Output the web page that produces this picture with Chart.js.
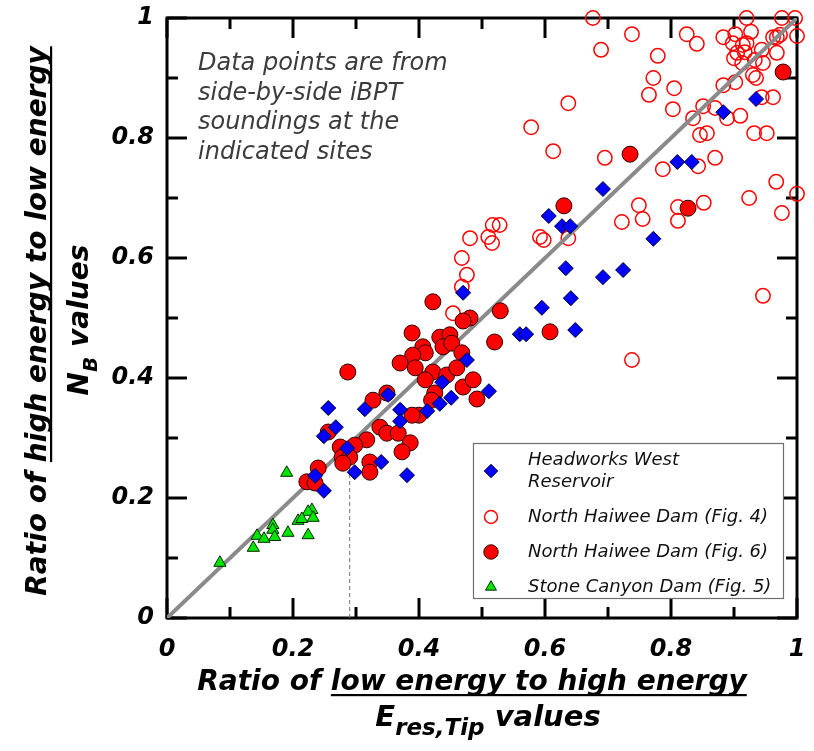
<!DOCTYPE html>
<html>
<head>
<meta charset="utf-8">
<script src="https://cdn.jsdelivr.net/npm/chart.js@4.4.1/dist/chart.umd.min.js"></script>
<style>
  html, body { margin: 0; padding: 0; background: #fff; }
  canvas { display: block; }
</style>
</head>
<body>
<canvas id="ratioChart" width="814" height="751"></canvas>
<script>
/* ── data ── */

// Headworks West Reservoir  [Eres,Tip ratio, NB ratio]
const headworks = [
    [0.935, 0.865], [0.883, 0.843], [0.810, 0.760], [0.833, 0.760], [0.692, 0.715],
    [0.606, 0.670], [0.627, 0.653], [0.640, 0.653], [0.772, 0.632], [0.633, 0.583],
    [0.692, 0.568], [0.724, 0.580], [0.641, 0.533], [0.595, 0.517], [0.470, 0.542],
    [0.560, 0.473], [0.570, 0.473], [0.648, 0.480], [0.511, 0.378],
    [0.476, 0.430], [0.437, 0.393], [0.451, 0.367], [0.433, 0.357], [0.351, 0.372],
    [0.256, 0.350], [0.314, 0.348], [0.370, 0.347], [0.370, 0.328], [0.413, 0.345],
    [0.268, 0.318], [0.249, 0.303], [0.286, 0.283], [0.340, 0.260], [0.298, 0.243],
    [0.381, 0.238], [0.235, 0.237], [0.249, 0.212],
];

// North Haiwee Dam (Fig. 4) – open circles
const haiweeFig4 = [
    [0.676, 1.000], [0.738, 0.973], [0.689, 0.947], [0.779, 0.937], [0.825, 0.973],
    [0.841, 0.957], [0.772, 0.900], [0.765, 0.872], [0.805, 0.883], [0.803, 0.848],
    [0.637, 0.858], [0.578, 0.818], [0.613, 0.778], [0.695, 0.767], [0.787, 0.748],
    [0.843, 0.753], [0.870, 0.767], [0.851, 0.853], [0.835, 0.833], [0.846, 0.805],
    [0.857, 0.808], [0.870, 0.850], [0.883, 0.888], [0.902, 0.893], [0.889, 0.833],
    [0.910, 0.837], [0.932, 0.808], [0.952, 0.808], [0.962, 0.868], [0.944, 0.868],
    [0.967, 0.727], [1.000, 0.707], [0.924, 0.700], [0.976, 0.675], [0.946, 0.537],
    [0.852, 0.692], [0.811, 0.685], [0.811, 0.662], [0.749, 0.688], [0.755, 0.665],
    [0.722, 0.660], [0.637, 0.633], [0.592, 0.635], [0.598, 0.630], [0.517, 0.655],
    [0.528, 0.655], [0.510, 0.635], [0.516, 0.625], [0.920, 1.000], [0.976, 1.000],
    [0.997, 1.000], [1.000, 0.970], [0.973, 0.972], [0.968, 0.968], [0.927, 0.977],
    [0.902, 0.973], [0.883, 0.968], [0.898, 0.958], [0.914, 0.955], [0.920, 0.958],
    [0.905, 0.942], [0.917, 0.943], [0.944, 0.947], [0.900, 0.933], [0.933, 0.930],
    [0.946, 0.925], [0.913, 0.925], [0.968, 0.942], [0.930, 0.905], [0.935, 0.900],
    [0.962, 0.968], [0.481, 0.633], [0.468, 0.600], [0.476, 0.572], [0.468, 0.552],
    [0.454, 0.508], [0.738, 0.430],
];

// North Haiwee Dam (Fig. 6) – filled circles
const haiweeFig6 = [
    [0.978, 0.910], [0.735, 0.773], [0.630, 0.687], [0.827, 0.683], [0.529, 0.512],
    [0.608, 0.477], [0.422, 0.527], [0.481, 0.500], [0.470, 0.495], [0.389, 0.475],
    [0.433, 0.468], [0.449, 0.472], [0.438, 0.452], [0.452, 0.458], [0.406, 0.452],
    [0.410, 0.442], [0.390, 0.438], [0.468, 0.442], [0.370, 0.425], [0.394, 0.417],
    [0.422, 0.410], [0.444, 0.405], [0.460, 0.417], [0.410, 0.397], [0.287, 0.410],
    [0.470, 0.385], [0.486, 0.397], [0.425, 0.375], [0.492, 0.365], [0.420, 0.363],
    [0.349, 0.375], [0.327, 0.363], [0.400, 0.338], [0.389, 0.338], [0.338, 0.318],
    [0.349, 0.308], [0.367, 0.308], [0.317, 0.297], [0.386, 0.292], [0.373, 0.277],
    [0.298, 0.288], [0.275, 0.285], [0.278, 0.268], [0.290, 0.268], [0.279, 0.258],
    [0.322, 0.260], [0.322, 0.243], [0.256, 0.310], [0.240, 0.250], [0.222, 0.227],
    [0.235, 0.225], [0.520, 0.460],
];

// Stone Canyon Dam (Fig. 5) – triangles
const stoneCanyon = [
    [0.190, 0.242], [0.230, 0.180], [0.224, 0.177], [0.208, 0.162], [0.214, 0.165],
    [0.232, 0.167], [0.168, 0.155], [0.168, 0.147], [0.171, 0.135], [0.143, 0.137],
    [0.154, 0.132], [0.192, 0.142], [0.224, 0.138], [0.137, 0.117], [0.084, 0.092],
];

// 1:1 line and the dashed marker
const oneToOneX = [0, 1];
const oneToOneY = [0, 1];
const markerX   = [0.29, 0.29];
const markerY   = [0, 0.275];

const axisTicks = [0, 0.2, 0.4, 0.6, 0.8, 1];

/* ── helpers ── */

const FONT = '"DejaVu Sans", sans-serif';
const toPts = arr => arr.map(([x, y]) => ({ x, y }));
const zipPts = (xs, ys) => xs.map((x, i) => ({ x, y: ys[i] }));

function tickLabel(v) {
    const t = Math.round(v * 10);
    return axisTicks.includes(t / 10) ? String(t / 10) : '';
}

// keep tick-label overflow from shrinking the plot box
function fixScale(size, key) {
    return s => {
        s[key] = size;
        s.paddingTop = s.paddingBottom = s.paddingLeft = s.paddingRight = 0;
    };
}

// draws a line of mixed text (subscripts, underlines) centred on cx
function drawRich(ctx, parts, cx, y) {
    let total = 0;
    parts.forEach(p => {
        ctx.font = `italic bold ${p.size}px ${FONT}`;
        p.w = ctx.measureText(p.t).width;
        total += p.w;
    });
    let x = cx - total / 2;
    parts.forEach(p => {
        ctx.font = `italic bold ${p.size}px ${FONT}`;
        ctx.fillText(p.t, x, y + (p.dy || 0));
        if (p.u) ctx.fillRect(x, y + 4, p.w, 2.2);
        x += p.w;
    });
}

/* ── custom plugins: frame with inward ticks, titles, note, legend ── */

const framePlugin = {
    id: 'frame',
    beforeDatasetsDraw(chart) {
        const { ctx, chartArea: a, scales: { x, y } } = chart;
        ctx.save();
        ctx.strokeStyle = '#000';
        ctx.lineWidth = 3;
        ctx.strokeRect(a.left, a.top, a.right - a.left, a.bottom - a.top);
        x.ticks.forEach(t => {
            const px = x.getPixelForValue(t.value);
            const len = tickLabel(t.value) ? 20 : 11;
            ctx.beginPath();
            ctx.moveTo(px, a.bottom); ctx.lineTo(px, a.bottom - len);
            ctx.moveTo(px, a.top);    ctx.lineTo(px, a.top + len);
            ctx.stroke();
        });
        y.ticks.forEach(t => {
            const py = y.getPixelForValue(t.value);
            const len = tickLabel(t.value) ? 20 : 11;
            ctx.beginPath();
            ctx.moveTo(a.left, py);  ctx.lineTo(a.left + len, py);
            ctx.moveTo(a.right, py); ctx.lineTo(a.right - len, py);
            ctx.stroke();
        });
        ctx.restore();
    },
};

const labelsPlugin = {
    id: 'labels',
    afterDraw(chart) {
        const { ctx } = chart;
        ctx.save();
        ctx.fillStyle = '#000';
        ctx.textBaseline = 'alphabetic';
        ctx.textAlign = 'left';

        // x title
        drawRich(ctx, [
            { t: 'Ratio of ', size: 28 },
            { t: 'low energy to high energy', size: 28, u: true },
        ], 472, 690);
        drawRich(ctx, [
            { t: 'E', size: 29 },
            { t: 'res,Tip', size: 23, dy: 9 },
            { t: ' values', size: 29 },
        ], 488, 726);

        // y title (rotated)
        ctx.save();
        ctx.translate(46, 321);
        ctx.rotate(-Math.PI / 2);
        drawRich(ctx, [
            { t: 'Ratio of ', size: 28 },
            { t: 'high energy to low energy', size: 28, u: true },
        ], 0, 0);
        ctx.restore();
        ctx.save();
        ctx.translate(88, 320);
        ctx.rotate(-Math.PI / 2);
        drawRich(ctx, [
            { t: 'N', size: 28 },
            { t: 'B', size: 20, dy: 9 },
            { t: ' values', size: 28 },
        ], 0, 0);
        ctx.restore();

        // note
        ctx.fillStyle = '#3c3c3c';
        ctx.font = `italic 24px ${FONT}`;
        ['Data points are from', 'side-by-side iBPT', 'soundings at the', 'indicated sites']
            .forEach((line, i) => ctx.fillText(line, 198, 70 + i * 29.7));

        // legend
        const box = { x: 473, y: 443, w: 310, h: 155 };
        ctx.fillStyle = '#fff';
        ctx.fillRect(box.x, box.y, box.w, box.h);
        ctx.strokeStyle = '#6e6e6e';
        ctx.lineWidth = 1.2;
        ctx.strokeRect(box.x + 0.5, box.y + 0.5, box.w, box.h);

        const rows = [
            { ds: 0, cy: 471, lines: ['Headworks West', 'Reservoir'] },
            { ds: 1, cy: 517 },
            { ds: 2, cy: 552 },
            { ds: 3, cy: 587 },
        ];
        ctx.font = `italic 18px ${FONT}`;
        ctx.textBaseline = 'middle';
        rows.forEach(r => {
            const d = chart.data.datasets[r.ds];
            ctx.fillStyle = d.pointBackgroundColor;
            ctx.strokeStyle = d.pointBorderColor;
            ctx.lineWidth = d.pointBorderWidth;
            Chart.helpers.drawPoint(ctx, {
                pointStyle: d.pointStyle,
                radius: d.pointRadius * 0.9,
                rotation: 0,
                borderWidth: d.pointBorderWidth,
            }, 491, r.cy);
            ctx.fillStyle = '#111';
            const lines = r.lines || [d.label];
            lines.forEach((line, i) => {
                ctx.fillText(line, 528, r.cy + (i - (lines.length - 1) / 2) * 22);
            });
        });
        ctx.restore();
    },
};

/* ── chart ── */

const tickFont = { family: FONT, size: 24, weight: 'bold', style: 'italic' };

new Chart(document.getElementById('ratioChart').getContext('2d'), {
    type: 'scatter',
    data: {
        datasets: [
            {
                label: 'Headworks West Reservoir',
                data: toPts(headworks),
                pointStyle: 'rectRot',
                pointRadius: 7.5,
                pointBackgroundColor: '#0000ff',
                pointBorderColor: '#00002a',
                pointBorderWidth: 1,
                order: 1,
                clip: false,
            },
            {
                label: 'North Haiwee Dam (Fig. 4)',
                data: toPts(haiweeFig4),
                pointStyle: 'circle',
                pointRadius: 7.2,
                pointBackgroundColor: 'rgba(255,255,255,0)',
                pointBorderColor: '#ff0000',
                pointBorderWidth: 1.5,
                order: 5,
                clip: false,
            },
            {
                label: 'North Haiwee Dam (Fig. 6)',
                data: toPts(haiweeFig6),
                pointStyle: 'circle',
                pointRadius: 8,
                pointBackgroundColor: '#ff0000',
                pointBorderColor: '#2a0000',
                pointBorderWidth: 1,
                order: 2,
                clip: false,
            },
            {
                label: 'Stone Canyon Dam (Fig. 5)',
                data: toPts(stoneCanyon),
                pointStyle: 'triangle',
                pointRadius: 7,
                pointBackgroundColor: '#00e600',
                pointBorderColor: '#002a00',
                pointBorderWidth: 1,
                order: 0,
                clip: false,
            },
            {
                label: '1:1',
                data: zipPts(oneToOneX, oneToOneY),
                showLine: true,
                borderColor: '#8a8a8a',
                borderWidth: 4,
                pointRadius: 0,
                order: 4,
            },
            {
                label: 'marker',
                data: zipPts(markerX, markerY),
                showLine: true,
                borderColor: '#707070',
                borderWidth: 1,
                borderDash: [4, 3],
                pointRadius: 0,
                order: 3,
            },
        ],
    },
    options: {
        responsive: false,
        animation: false,
        devicePixelRatio: 1,
        layout: { autoPadding: false, padding: { top: 18, right: 17, left: 0, bottom: 0 } },
        scales: {
            x: {
                type: 'linear', min: 0, max: 1,
                grid: { display: false, drawTicks: false },
                border: { display: false },
                ticks: {
                    stepSize: 0.1, autoSkip: false, maxRotation: 0, padding: 17,
                    color: '#000', font: tickFont, callback: tickLabel,
                },
                afterFit: fixScale(133, 'height'),
            },
            y: {
                type: 'linear', min: 0, max: 1,
                grid: { display: false, drawTicks: false },
                border: { display: false },
                ticks: {
                    stepSize: 0.1, autoSkip: false, padding: 13,
                    color: '#000', font: tickFont, callback: tickLabel,
                },
                afterFit: fixScale(167, 'width'),
            },
        },
        plugins: {
            legend:  { display: false },
            tooltip: { enabled: false },
        },
    },
    plugins: [framePlugin, labelsPlugin],
});
</script>
</body>
</html>
